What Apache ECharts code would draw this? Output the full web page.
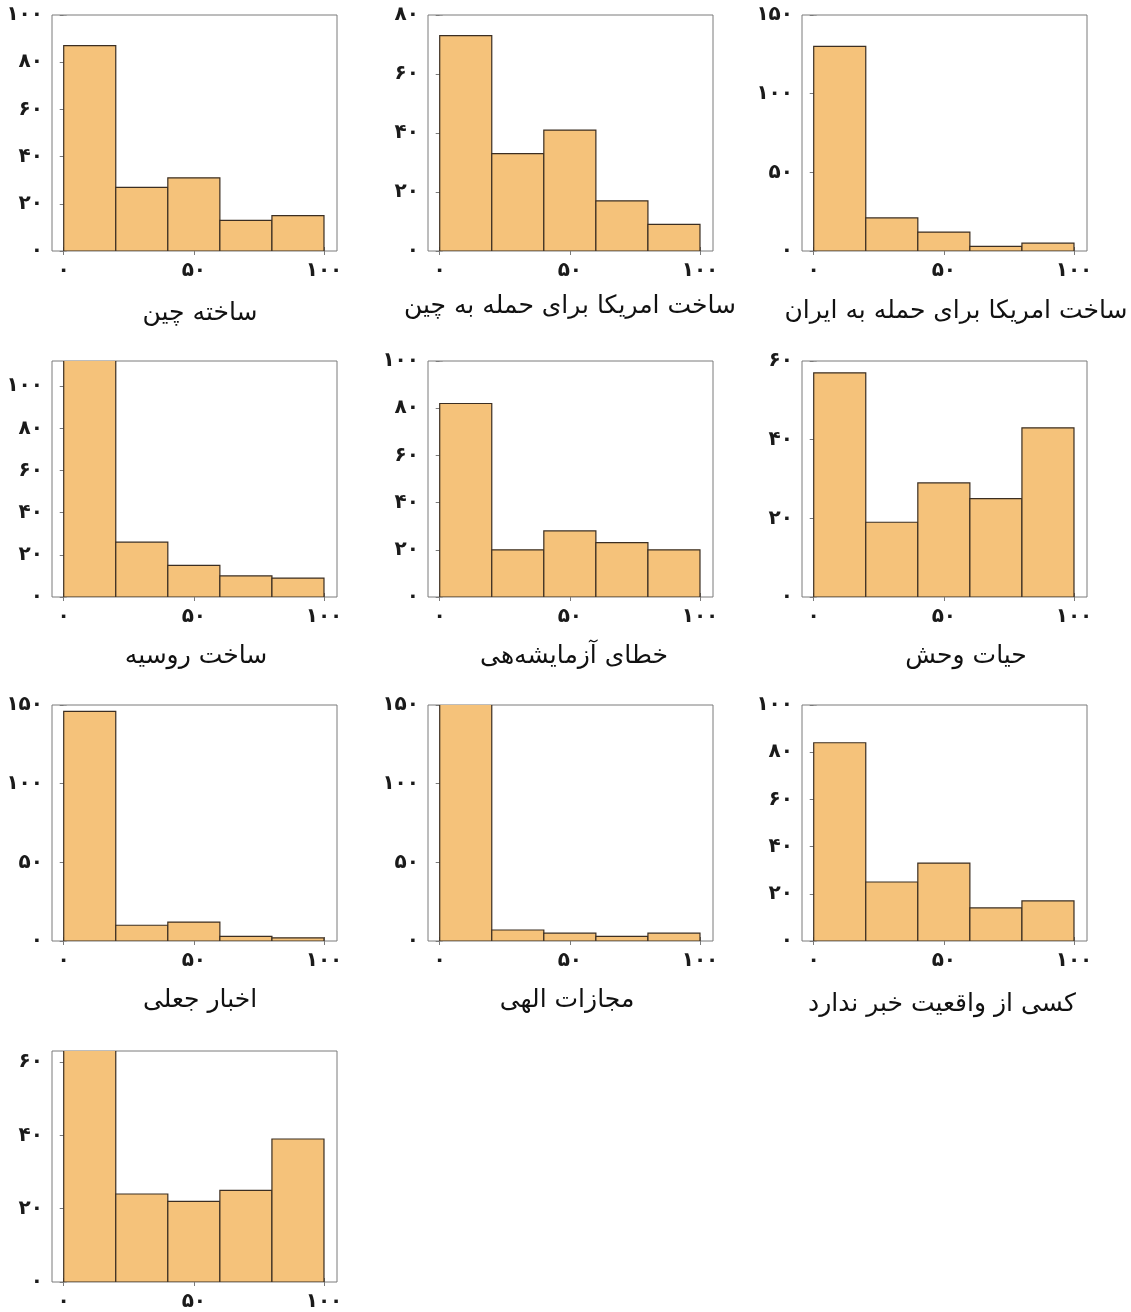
<!DOCTYPE html>
<html>
<head>
<meta charset="utf-8">
<script src="https://cdn.jsdelivr.net/npm/echarts@6/dist/echarts.min.js"></script>
<style>
html,body{margin:0;padding:0;background:#fff;}
#chart{width:1131px;height:1312px;}
</style>
</head>
<body>
<div id="chart"></div>
<script>
// ---- data ----
const titles = [
  'ساخته چین',
  'ساخت امریکا برای حمله به چین',
  'ساخت امریکا برای حمله به ایران',
  'ساخت روسیه',
  'خطای آزمایشه‌هی',
  'حیات وحش',
  'اخبار جعلی',
  'مجازات الهی',
  'کسی از واقعیت خبر ندارد',
  ''
];
const binEdges = [0, 20, 40, 60, 80, 100];
const counts1 = [87, 27, 31, 13, 15];
const counts2 = [73, 33, 41, 17, 9];
const counts3 = [130, 21, 12, 3, 5];
const counts4 = [125, 26, 15, 10, 9];
const counts5 = [82, 20, 28, 23, 20];
const counts6 = [57, 19, 29, 25, 43];
const counts7 = [146, 10, 12, 3, 2];
const counts8 = [165, 7, 5, 3, 5];
const counts9 = [84, 25, 33, 14, 17];
const counts10 = [66, 24, 22, 25, 39];
const allCounts = [counts1, counts2, counts3, counts4, counts5, counts6, counts7, counts8, counts9, counts10];
const yMaxes = [100, 80, 150, 112, 100, 60, 150, 150, 100, 63];
const yTickLabels = [
  [0, 20, 40, 60, 80, 100],
  [0, 20, 40, 60, 80],
  [0, 50, 100, 150],
  [0, 20, 40, 60, 80, 100],
  [0, 20, 40, 60, 80, 100],
  [0, 20, 40, 60],
  [0, 50, 100, 150],
  [0, 50, 100, 150],
  [0, 20, 40, 60, 80, 100],
  [0, 20, 40, 60]
];
const xTickLabels = [0, 50, 100];

// ---- layout ----
const colLeft = [52, 428, 802];
const rowTop = [15, 361, 705, 1051];
const gridW = 285, gridH = 236;
const titlePos = [[200, 313], [570, 306], [956, 311], [196, 656], [574, 656], [966, 656], [200, 1000], [567, 1000], [942, 1004]];

const FONT = '"DejaVu Sans", sans-serif';
const fa = v => String(v).replace(/\d/g, d => '۰۱۲۳۴۵۶۷۸۹'[d]);

const grid = [], xAxis = [], yAxis = [], series = [], graphic = [];
allCounts.forEach((cnt, i) => {
  const r = Math.floor(i / 3), c = i % 3;
  grid.push({left: colLeft[c], top: rowTop[r], width: gridW, height: gridH,
    show: true, borderColor: '#7a7a7a', borderWidth: 1, backgroundColor: 'transparent'});
  const xi = xAxis.length;
  xAxis.push({type: 'value', gridIndex: i, min: -4.5, max: 105, position: 'bottom',
    axisLine: {show: false}, splitLine: {show: false},
    axisTick: {show: true, inside: true, length: 4, customValues: xTickLabels, lineStyle: {color: '#7a7a7a'}},
    axisLabel: {show: true, customValues: xTickLabels, formatter: fa, margin: 10,
      fontFamily: FONT, fontSize: 20, fontWeight: 'bold', color: '#1a1a1a'}});
  xAxis.push({type: 'value', gridIndex: i, min: -4.5, max: 105, position: 'top',
    axisLine: {show: false}, splitLine: {show: false},
    axisTick: {show: true, inside: true, length: 4, customValues: xTickLabels, lineStyle: {color: '#7a7a7a'}},
    axisLabel: {show: false}});
  const yi = yAxis.length;
  yAxis.push({type: 'value', gridIndex: i, min: 0, max: yMaxes[i], position: 'left',
    axisLine: {show: false}, splitLine: {show: false},
    axisTick: {show: true, inside: true, length: 3, customValues: yTickLabels[i], lineStyle: {color: '#9a9a9a'}},
    axisLabel: {show: true, customValues: yTickLabels[i], formatter: fa, margin: 9,
      fontFamily: FONT, fontSize: 20, fontWeight: 'bold', color: '#1a1a1a'}});
  yAxis.push({type: 'value', gridIndex: i, min: 0, max: yMaxes[i], position: 'right',
    axisLine: {show: false}, splitLine: {show: false},
    axisTick: {show: true, inside: true, length: 4, customValues: yTickLabels[i], lineStyle: {color: '#7a7a7a'}},
    axisLabel: {show: false}});
  const data = cnt.map((v, k) => [binEdges[k], binEdges[k + 1], v]);
  series.push({type: 'custom', xAxisIndex: xi, yAxisIndex: yi, clip: true,
    encode: {x: [0, 1], y: 2},
    data: data,
    renderItem: function (params, api) {
      const p0 = api.coord([api.value(0), 0]);
      const p1 = api.coord([api.value(1), api.value(2)]);
      return {type: 'rect',
        shape: {x: p0[0], y: p1[1], width: p1[0] - p0[0], height: p0[1] - p1[1]},
        style: {fill: '#F5C27A', stroke: '#3b2e22', lineWidth: 1.2}};
    }});
  if (titles[i]) {
    graphic.push({type: 'text', x: titlePos[i][0], y: titlePos[i][1],
      style: {text: titles[i], font: '25px ' + FONT, fill: '#111', textAlign: 'center', textVerticalAlign: 'middle'}});
  }
});

const chart = echarts.init(document.getElementById('chart'), null, {renderer: 'canvas'});
chart.setOption({animation: false, backgroundColor: '#fff', grid, xAxis, yAxis, series, graphic});
</script>
</body>
</html>
